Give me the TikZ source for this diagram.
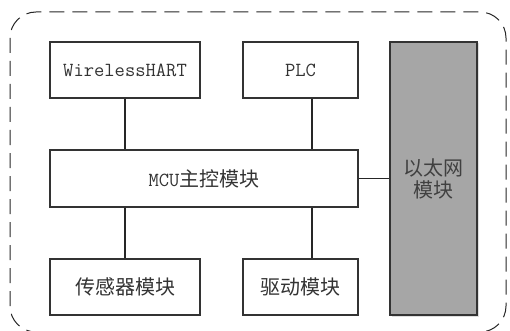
\documentclass[tikz,border=0pt]{standalone}
\usepackage{fontspec}
\newfontfamily\cjk{Noto Sans CJK SC}
\usetikzlibrary{shadows}
\newcommand{\zhtext}[1]{{\cjk\fontsize{20}{23}\selectfont #1}}

\begin{document}
\begin{tikzpicture}[x=1pt, y=-1pt,
  modbox/.style={draw=black!80, line width=1.2pt, inner sep=0pt, text=black!80,
    minimum height=56pt, font=\ttfamily\fontsize{20}{23}\selectfont},
  link/.style={draw=black!85, line width=1.2pt}]
\useasboundingbox (0,0) rectangle (510,331);
\draw[black!85, line width=1pt, dash pattern=on 15pt off 8pt, rounded corners=26pt] (10,12) rectangle (506,332);

\node[modbox, minimum width=150pt] (whart) at (125,70) {WirelessHART};
\node[modbox, minimum width=115pt] (plc) at (300.5,70) {PLC};
\node[modbox, minimum width=308pt, minimum height=57pt] (mcu) at (204,178.5) {MCU\zhtext{主控模块}};
\node[modbox, minimum width=150pt] (sensor) at (125,287) {\zhtext{传感器模块}};
\node[modbox, minimum width=115pt] (drive) at (300.5,287) {\zhtext{驱动模块}};
\node[modbox, fill=black!35, text=black!75, minimum width=87pt, minimum height=273pt, align=center,
  drop shadow={shadow xshift=1.5pt, shadow yshift=-1.5pt, opacity=0.25}] (eth) at (433.5,178.5)
  {\zhtext{以太网}\\[-1pt]\zhtext{模块}};

\draw[link] (whart.south) -- (whart.south |- mcu.north);
\draw[link] ([xshift=11.5pt]plc.south) -- ([xshift=11.5pt]plc.south |- mcu.north);
\draw[link] ([xshift=11.5pt]drive.north |- mcu.south) -- ([xshift=11.5pt]drive.north);
\draw[link] (sensor.north |- mcu.south) -- (sensor.north);
\draw[link] (mcu.east) -- (mcu.east -| eth.west);
\end{tikzpicture}
\end{document}
